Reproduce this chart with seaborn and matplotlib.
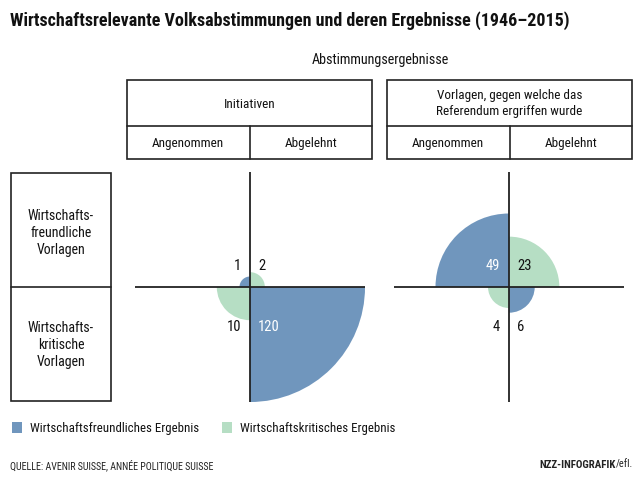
import os
import numpy as np
import pandas as pd
import matplotlib
matplotlib.use("Agg")
import matplotlib.pyplot as plt
from matplotlib import font_manager as fm
from matplotlib.patches import Wedge, Rectangle
import seaborn as sns

# ---------------- data ----------------
row_labels = ["Wirtschafts-\nfreundliche\nVorlagen", "Wirtschafts-\nkritische\nVorlagen"]
col_labels = ["Angenommen", "Abgelehnt"]
group_labels = ["Initiativen", "Vorlagen, gegen welche das\nReferendum ergriffen wurde"]
initiativen_freundlich = [1, 2]      # angenommen, abgelehnt
initiativen_kritisch = [10, 120]
referendum_freundlich = [49, 23]
referendum_kritisch = [4, 6]
legend_labels = ["Wirtschaftsfreundliches Ergebnis", "Wirtschaftskritisches Ergebnis"]

title = "Wirtschaftsrelevante Volksabstimmungen und deren Ergebnisse (1946–2015)"
subtitle = "Abstimmungsergebnisse"
source = "QUELLE: AVENIR SUISSE, ANNÉE POLITIQUE SUISSE"

BLUE = "#7096bd"
GREEN = "#b6dec4"
LINE = "#222222"

sns.set_theme(style="white")
plt.rcParams["font.family"] = ["DejaVu Sans"]

# ---- pick a condensed font if one is installed ----
files = [f.fname for f in fm.fontManager.ttflist]
def find(cands):
    for c in cands:
        for f in files:
            if os.path.basename(f).lower() == c.lower():
                return f
    return None

reg_file = find(["LiberationSansNarrow-Regular.ttf", "RobotoCondensed-Regular.ttf",
                 "NotoSans-Condensed.ttf", "NotoSans-CondensedRegular.ttf",
                 "DejaVuSansCondensed.ttf"])
bold_file = find(["LiberationSansNarrow-Bold.ttf", "RobotoCondensed-Bold.ttf",
                  "NotoSans-CondensedBold.ttf", "DejaVuSansCondensed-Bold.ttf"])
def fp(size, bold=False):
    f = bold_file if bold else reg_file
    if f is not None:
        return fm.FontProperties(fname=f, size=size)
    return fm.FontProperties(family="DejaVu Sans", size=size * 0.8,
                             weight="bold" if bold else "normal")

W, H = 643, 481
fig = plt.figure(figsize=(W / 100, H / 100), dpi=100)
fig.patch.set_facecolor("white")

bg = fig.add_axes([0, 0, 1, 1])
bg.set_xlim(0, W)
bg.set_ylim(H, 0)
bg.axis("off")

bg.text(10, 21, title, fontproperties=fp(13, True), va="center", ha="left", color="#111")
bg.text(380, 60, subtitle, fontproperties=fp(10.2), ha="center", va="center", color="#111")

for gx, glabel in zip([127, 387], group_labels):
    w = 245
    bg.add_patch(Rectangle((gx, 81), w, 79, fill=False, lw=1.2, ec=LINE))
    bg.plot([gx, gx + w], [127, 127], color=LINE, lw=1.2)
    bg.plot([gx + w / 2, gx + w / 2], [127, 160], color=LINE, lw=1.2)
    bg.text(gx + w / 2, 104, glabel, fontproperties=fp(9.5), ha="center", va="center",
            linespacing=1.3, color="#111")
    for i, cl in enumerate(col_labels):
        bg.text(gx + w / 4 + i * w / 2, 144, cl, fontproperties=fp(9.5),
                ha="center", va="center", color="#111")

bg.add_patch(Rectangle((11, 174), 100, 228, fill=False, lw=1.2, ec=LINE))
bg.plot([11, 111], [288, 288], color=LINE, lw=1.2)
for i, rl in enumerate(row_labels):
    bg.text(61, 233 + i * 112, rl, fontproperties=fp(10), ha="center", va="center",
            linespacing=1.3, color="#111")

for i, (lab, col) in enumerate(zip(legend_labels, [BLUE, GREEN])):
    x0 = 12 + i * 210
    bg.add_patch(Rectangle((x0, 423), 10, 11, color=col, lw=0))
    bg.text(x0 + 18, 429, lab, fontproperties=fp(9.3), ha="left", va="center", color="#111")

bg.text(10, 465, source, fontproperties=fp(7.2), ha="left", va="center", color="#222")
t_efl = bg.text(633, 465, "/efl.", fontproperties=fp(7.5), ha="right", va="center", color="#222")
renderer = fig.canvas.get_renderer()
ext = t_efl.get_window_extent(renderer)
bg.text(ext.x0, 465, "NZZ-INFOGRAFIK", fontproperties=fp(7.8, True),
        ha="right", va="center", color="#222")

# ---------------- quarter-circle charts ----------------
SCALE = 10.5  # pixels per sqrt(count)
HALF = 115

def draw_chart(cx, freundlich, kritisch):
    ax = fig.add_axes([(cx - HALF) / W, (H - 403) / H, 2 * HALF / W, 2 * HALF / H])
    ax.set_xlim(-HALF, HALF)
    ax.set_ylim(-HALF, HALF)
    ax.axis("off")
    df = pd.DataFrame({
        "row": ["freundlich", "freundlich", "kritisch", "kritisch"],
        "col": col_labels * 2,
        "value": list(freundlich) + list(kritisch),
    })
    for _, r in df.iterrows():
        top = r["row"] == "freundlich"
        accepted = r["col"] == "Angenommen"
        if top and not accepted:
            th = (0, 90)
        elif top and accepted:
            th = (90, 180)
        elif accepted:
            th = (180, 270)
        else:
            th = (270, 360)
        color = BLUE if (top == accepted) else GREEN
        rad = SCALE * np.sqrt(r["value"])
        ax.add_patch(Wedge((0, 0), rad, th[0], th[1], color=color, lw=0, zorder=1))
        tx = -9 if accepted else 8
        ty = 22 if top else -39
        big = rad > 60 and color == BLUE
        ax.text(tx, ty, str(r["value"]), fontproperties=fp(10.5),
                ha="right" if accepted else "left", va="center",
                color="white" if big else "#111", zorder=3)
    ax.axhline(0, color=LINE, lw=1.3, zorder=2)
    ax.axvline(0, color=LINE, lw=1.3, zorder=2)
    return ax

draw_chart(250, initiativen_freundlich, initiativen_kritisch)
draw_chart(509, referendum_freundlich, referendum_kritisch)

fig.savefig("out.png", dpi=100, facecolor="white")
